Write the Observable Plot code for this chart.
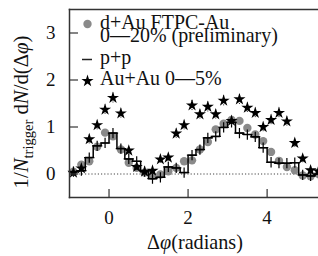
<!DOCTYPE html>
<html><head><meta charset="utf-8">
<script src="https://cdn.jsdelivr.net/npm/d3@7"></script>
<script src="https://cdn.jsdelivr.net/npm/@observablehq/plot@0.6"></script>
<style>body{margin:0;background:#fff;} svg{display:block;}</style>
</head><body><div id="chart"></div>
<script>
// Δφ bin centres (radians)
const phi = [-0.9,-0.7,-0.5,-0.3,-0.1,0.1,0.3,0.5,0.7,0.9,1.1,1.3,1.5,1.7,1.9,2.1,2.3,2.5,2.7,2.9,3.1,3.3,3.5,3.7,3.9,4.1,4.3,4.5,4.7,4.9,5.1,5.3];
// d+Au FTPC-Au 0-20% (preliminary)
const dAu = [0.05,0.20,0.27,0.58,0.88,0.80,0.52,0.24,0.13,0.03,-0.04,-0.01,0.06,0.13,0.27,0.29,0.52,0.68,0.95,1.07,1.15,1.13,0.98,0.84,0.70,0.47,0.28,0.15,0.08,-0.03,-0.05,0.00];
// p+p
const pp = [0.05,0.07,0.35,0.60,0.66,0.87,0.54,0.32,0.27,0.05,-0.10,-0.07,0.15,0.13,0.03,0.40,0.52,0.77,0.80,0.99,1.10,0.87,0.84,0.79,0.56,0.25,0.23,0.23,0.24,-0.02,-0.04,0.00];
// Au+Au 0-5%
const AuAu = [0.03,0.12,0.74,1.04,1.37,1.62,1.29,0.50,0.15,0.05,0.07,0.31,0.35,0.86,1.04,1.46,1.27,1.43,1.27,1.56,1.13,1.59,1.41,1.30,1.00,1.15,1.30,1.12,0.66,0.33,0.08,0.06];
const AuAuErr = [0.08,0.08,0.1,0.1,0.1,0.11,0.1,0.09,0.08,0.08,0.08,0.08,0.09,0.1,0.1,0.11,0.1,0.11,0.1,0.11,0.1,0.11,0.1,0.1,0.1,0.1,0.1,0.1,0.09,0.09,0.08,0.08];
const xTicks = [0, 2, 4];
const yTicks = [0, 1, 2, 3];
const xDomain = [-1, 5.3];
const yDomain = [-0.5, 3.5];

const rows = phi.map((x, i) => ({x, dAu: dAu[i], pp: pp[i], AuAu: AuAu[i], lo: AuAu[i] - AuAuErr[i], hi: AuAu[i] + AuAuErr[i]}));

const FONT = '"Liberation Serif"';
const svg = Plot.plot({
  width: 318, height: 256,
  marginLeft: 69, marginRight: 0, marginTop: 9, marginBottom: 59,
  style: {fontFamily: FONT, fontSize: "19px", color: "#111", background: "#fff"},
  x: {domain: xDomain, label: null},
  y: {domain: yDomain, label: null},
  marks: [
    Plot.ruleY([0], {stroke: "#444", strokeWidth: 1, strokeDasharray: "1.2,2"}),
    Plot.dot(rows, {x: "x", y: "dAu", r: 4.2, fill: "#8a8a8a", stroke: "none"}),
    Plot.line(rows, {x: "x", y: "pp", curve: "step", stroke: "#000", strokeWidth: 1.5}),
    Plot.dot(rows, {x: "x", y: "pp", symbol: "plus", r: 3.4, stroke: "#000", strokeWidth: 1.2}),
    Plot.ruleX(rows, {x: "x", y1: "lo", y2: "hi", stroke: "#222", strokeWidth: 1, strokeDasharray: "1,2"}),
    Plot.dot(rows, {x: "x", y: "AuAu", symbol: "star", r: 3.8, fill: "#000", stroke: "none"}),
    Plot.frame({anchor: "left", stroke: "#333", strokeWidth: 1.5}),
    Plot.frame({anchor: "top", stroke: "#333", strokeWidth: 1.5}),
    Plot.frame({anchor: "bottom", stroke: "#333", strokeWidth: 1.5}),
    Plot.axisX({ticks: xTicks, tickSize: -8, tickPadding: 21, tickFormat: d => String(d), stroke: "#333", strokeWidth: 1.2}),
    Plot.axisY({ticks: yTicks, tickSize: -9, tickPadding: 23, tickFormat: d => String(d), stroke: "#333", strokeWidth: 1.2})
  ]
});
document.getElementById("chart").appendChild(svg);

// annotations: legend and axis titles
const s = d3.select(svg);
const g = s.append("g").attr("font-size", 20).attr("fill", "#111").attr("text-anchor", "start").style("font-family", FONT);
g.append("circle").attr("cx", 87.5).attr("cy", 24).attr("r", 4.2).attr("fill", "#8a8a8a");
const l1 = g.append("text").attr("x", 100).attr("y", 28.5).text("d+Au FTPC-Au");
const l2 = g.append("text").attr("x", 100).attr("y", 42).text("0\u201420% (preliminary)");
g.append("line").attr("x1", 82).attr("x2", 92).attr("y1", 59.5).attr("y2", 59.5).attr("stroke", "#222").attr("stroke-width", 1.5);
const l3 = g.append("text").attr("x", 100).attr("y", 64).text("p+p");
g.append("path").attr("d", d3.symbol(d3.symbolStar, 46)()).attr("transform", "translate(87.5,81)").attr("fill", "#000");
const l4 = g.append("text").attr("x", 100).attr("y", 84.5).text("Au+Au 0\u20145%");

// y title
const yt = g.append("text").attr("transform", "translate(28,112) rotate(-90)").attr("text-anchor", "middle");
yt.append("tspan").text("1/");
yt.append("tspan").attr("font-style", "italic").text("N");
yt.append("tspan").attr("class", "sub").attr("font-size", 14).attr("dy", 5).text("trigger");
yt.append("tspan").attr("dy", -5).text(" d");
yt.append("tspan").attr("font-style", "italic").text("N");
yt.append("tspan").text("/d(\u0394");
yt.append("tspan").attr("font-style", "italic").text("\u03c6");
yt.append("tspan").text(")");

// x title
const xt = g.append("text").attr("x", 195).attr("y", 249).attr("text-anchor", "middle");
xt.append("tspan").text("\u0394");
xt.append("tspan").attr("font-style", "italic").text("\u03c6");
xt.append("tspan").text("(radians)");

s.selectAll("text").style("font-family", FONT);

// fit label font sizes to the extents seen in the reference
function fit(sel, target, base) {
  const w = sel.node().getComputedTextLength();
  const fs = w > 0 ? base * target / w : base;
  sel.attr("font-size", fs.toFixed(2));
  return fs;
}
const legendFs = fit(l2, 178, 20);
[l1, l3, l4].forEach(t => t.attr("font-size", legendFs.toFixed(2)));
fit(xt, 96, 20);
const yfs = fit(yt, 153, 20);
yt.select(".sub").attr("font-size", (yfs * 0.7).toFixed(2));
</script>
</body></html>
